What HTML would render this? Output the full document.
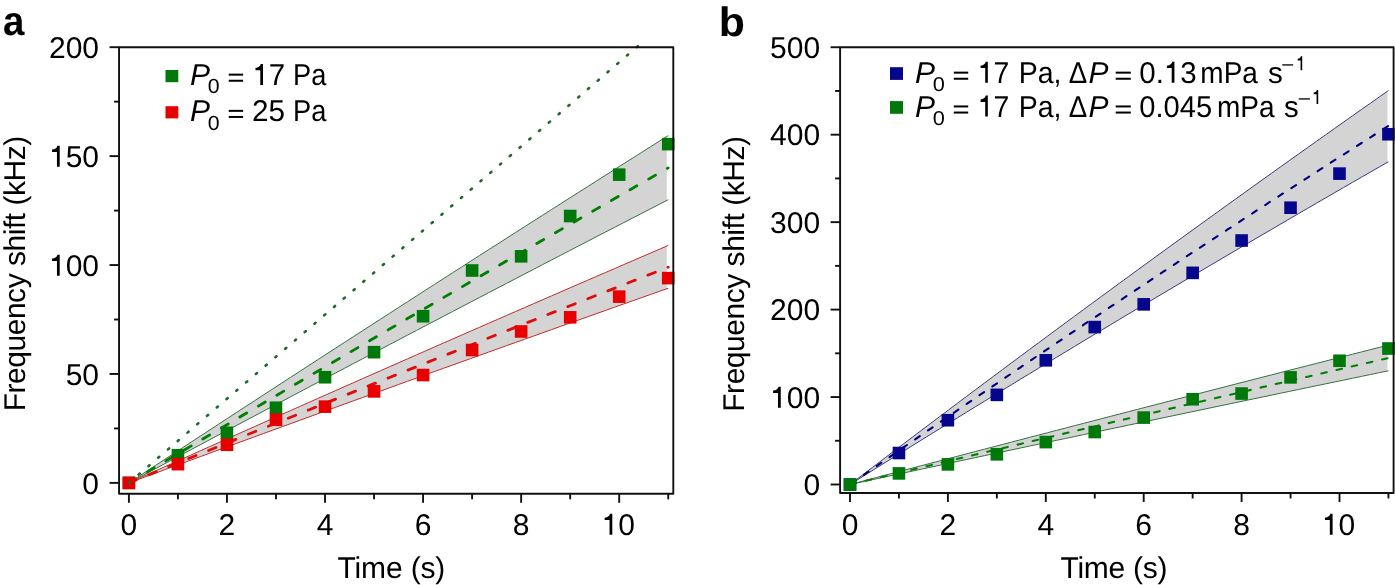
<!DOCTYPE html>
<html><head><meta charset="utf-8"><style>
html,body{margin:0;padding:0;background:#fff;}
svg{display:block;}
text{fill:#000;font-family:"Liberation Sans",sans-serif;text-rendering:geometricPrecision;}
</style></head><body>
<div style="will-change:transform"><svg width="1395" height="585" viewBox="0 0 1395 585">
<polygon points="128.90,482.90 137.86,477.01 146.83,471.13 155.79,465.26 164.76,459.38 173.72,453.51 182.69,447.65 191.65,441.78 200.61,435.93 209.58,430.07 218.54,424.22 227.51,418.37 236.47,412.53 245.44,406.69 254.40,400.85 263.36,395.02 272.33,389.19 281.29,383.37 290.26,377.55 299.22,371.73 308.19,365.92 317.15,360.11 326.12,354.30 335.08,348.50 344.04,342.70 353.01,336.91 361.97,331.12 370.94,325.33 379.90,319.55 388.87,313.77 397.83,308.00 406.79,302.23 415.76,296.46 424.72,290.69 433.69,284.93 442.65,279.18 451.62,273.43 460.58,267.68 469.54,261.93 478.51,256.19 487.47,250.45 496.44,244.72 505.40,238.99 514.37,233.26 523.33,227.54 532.29,221.82 541.26,216.11 550.22,210.40 559.19,204.69 568.15,198.99 577.12,193.29 586.08,187.59 595.04,181.90 604.01,176.21 612.97,170.53 621.94,164.85 630.90,159.17 639.87,153.50 648.83,147.83 657.79,142.16 666.76,136.50 666.76,200.46 657.79,205.07 648.83,209.68 639.87,214.30 630.90,218.93 621.94,223.55 612.97,228.18 604.01,232.81 595.04,237.45 586.08,242.09 577.12,246.73 568.15,251.37 559.19,256.02 550.22,260.67 541.26,265.33 532.29,269.99 523.33,274.65 514.37,279.31 505.40,283.98 496.44,288.65 487.47,293.32 478.51,298.00 469.54,302.68 460.58,307.36 451.62,312.05 442.65,316.74 433.69,321.43 424.72,326.13 415.76,330.83 406.79,335.53 397.83,340.24 388.87,344.95 379.90,349.66 370.94,354.37 361.97,359.09 353.01,363.81 344.04,368.54 335.08,373.27 326.12,378.00 317.15,382.73 308.19,387.47 299.22,392.21 290.26,396.96 281.29,401.70 272.33,406.45 263.36,411.21 254.40,415.96 245.44,420.72 236.47,425.49 227.51,430.26 218.54,435.02 209.58,439.80 200.61,444.57 191.65,449.35 182.69,454.14 173.72,458.92 164.76,463.71 155.79,468.50 146.83,473.30 137.86,478.10 128.90,482.90" fill="#d4d4d5"/>
<path d="M128.90,482.90 L137.89,477.00 L146.88,471.10 L155.87,465.21 L164.86,459.32 L173.84,453.43 L182.83,447.55 L191.82,441.67 L200.81,435.80 L209.80,429.93 L218.79,424.06 L227.78,418.20 L236.77,412.34 L245.75,406.48 L254.74,400.63 L263.73,394.78 L272.72,388.94 L281.71,383.10 L290.70,377.26 L299.69,371.43 L308.68,365.60 L317.67,359.78 L326.65,353.96 L335.64,348.14 L344.63,342.32 L353.62,336.51 L362.61,330.71 L371.60,324.91 L380.59,319.11 L389.58,313.31 L398.57,307.52 L407.55,301.74 L416.54,295.95 L425.53,290.17 L434.52,284.40 L443.51,278.63 L452.50,272.86 L461.49,267.09 L470.48,261.33 L479.46,255.58 L488.45,249.83 L497.44,244.08 L506.43,238.33 L515.42,232.59 L524.41,226.85 L533.40,221.12 L542.39,215.39 L551.38,209.66 L560.36,203.94 L569.35,198.22 L578.34,192.51 L587.33,186.80 L596.32,181.09 L605.31,175.39 L614.30,169.69 L623.29,163.99 L632.27,158.30 L641.26,152.61 L650.25,146.93 L659.24,141.25 L668.23,135.57" fill="none" stroke="#357040" stroke-width="1.0"/>
<path d="M128.90,482.90 L137.89,478.08 L146.88,473.27 L155.87,468.46 L164.86,463.66 L173.84,458.86 L182.83,454.06 L191.82,449.26 L200.81,444.47 L209.80,439.68 L218.79,434.89 L227.78,430.11 L236.77,425.33 L245.75,420.56 L254.74,415.78 L263.73,411.01 L272.72,406.25 L281.71,401.48 L290.70,396.72 L299.69,391.96 L308.68,387.21 L317.67,382.46 L326.65,377.71 L335.64,372.97 L344.63,368.23 L353.62,363.49 L362.61,358.76 L371.60,354.02 L380.59,349.30 L389.58,344.57 L398.57,339.85 L407.55,335.13 L416.54,330.42 L425.53,325.70 L434.52,321.00 L443.51,316.29 L452.50,311.59 L461.49,306.89 L470.48,302.19 L479.46,297.50 L488.45,292.81 L497.44,288.12 L506.43,283.44 L515.42,278.76 L524.41,274.09 L533.40,269.41 L542.39,264.74 L551.38,260.08 L560.36,255.41 L569.35,250.75 L578.34,246.09 L587.33,241.44 L596.32,236.79 L605.31,232.14 L614.30,227.50 L623.29,222.86 L632.27,218.22 L641.26,213.58 L650.25,208.95 L659.24,204.32 L668.23,199.70" fill="none" stroke="#357040" stroke-width="1.0"/>
<path d="M128.90,482.90 L137.89,477.55 L146.88,472.20 L155.87,466.85 L164.86,461.50 L173.84,456.16 L182.83,450.83 L191.82,445.50 L200.81,440.17 L209.80,434.84 L218.79,429.52 L227.78,424.20 L236.77,418.88 L245.75,413.57 L254.74,408.26 L263.73,402.96 L272.72,397.66 L281.71,392.36 L290.70,387.06 L299.69,381.77 L308.68,376.49 L317.67,371.20 L326.65,365.92 L335.64,360.65 L344.63,355.37 L353.62,350.10 L362.61,344.84 L371.60,339.57 L380.59,334.31 L389.58,329.06 L398.57,323.81 L407.55,318.56 L416.54,313.31 L425.53,308.07 L434.52,302.83 L443.51,297.60 L452.50,292.37 L461.49,287.14 L470.48,281.92 L479.46,276.70 L488.45,271.48 L497.44,266.26 L506.43,261.05 L515.42,255.85 L524.41,250.65 L533.40,245.45 L542.39,240.25 L551.38,235.06 L560.36,229.87 L569.35,224.68 L578.34,219.50 L587.33,214.32 L596.32,209.15 L605.31,203.98 L614.30,198.81 L623.29,193.64 L632.27,188.48 L641.26,183.33 L650.25,178.17 L659.24,173.02 L668.23,167.88" fill="none" stroke="#008000" stroke-width="2.8" stroke-dasharray="8 13.5" stroke-dashoffset="0" stroke-linecap="round"/>
<polygon points="128.90,482.90 137.86,478.86 146.83,474.83 155.79,470.80 164.76,466.77 173.72,462.74 182.69,458.72 191.65,454.70 200.61,450.69 209.58,446.67 218.54,442.67 227.51,438.66 236.47,434.65 245.44,430.65 254.40,426.66 263.36,422.66 272.33,418.67 281.29,414.68 290.26,410.70 299.22,406.72 308.19,402.74 317.15,398.76 326.12,394.79 335.08,390.82 344.04,386.85 353.01,382.89 361.97,378.93 370.94,374.97 379.90,371.01 388.87,367.06 397.83,363.11 406.79,359.17 415.76,355.22 424.72,351.29 433.69,347.35 442.65,343.42 451.62,339.49 460.58,335.56 469.54,331.63 478.51,327.71 487.47,323.80 496.44,319.88 505.40,315.97 514.37,312.06 523.33,308.15 532.29,304.25 541.26,300.35 550.22,296.46 559.19,292.56 568.15,288.67 577.12,284.78 586.08,280.90 595.04,277.02 604.01,273.14 612.97,269.26 621.94,265.39 630.90,261.52 639.87,257.66 648.83,253.79 657.79,249.94 666.76,246.08 666.76,288.74 657.79,291.91 648.83,295.08 639.87,298.25 630.90,301.42 621.94,304.60 612.97,307.78 604.01,310.96 595.04,314.14 586.08,317.33 577.12,320.52 568.15,323.71 559.19,326.90 550.22,330.10 541.26,333.29 532.29,336.49 523.33,339.70 514.37,342.90 505.40,346.11 496.44,349.32 487.47,352.53 478.51,355.74 469.54,358.96 460.58,362.18 451.62,365.40 442.65,368.62 433.69,371.85 424.72,375.07 415.76,378.30 406.79,381.54 397.83,384.77 388.87,388.01 379.90,391.25 370.94,394.49 361.97,397.73 353.01,400.98 344.04,404.23 335.08,407.48 326.12,410.73 317.15,413.99 308.19,417.25 299.22,420.51 290.26,423.77 281.29,427.04 272.33,430.30 263.36,433.57 254.40,436.85 245.44,440.12 236.47,443.40 227.51,446.68 218.54,449.96 209.58,453.24 200.61,456.53 191.65,459.82 182.69,463.11 173.72,466.40 164.76,469.70 155.79,472.99 146.83,476.29 137.86,479.60 128.90,482.90" fill="#d4d4d5"/>
<path d="M128.90,482.90 L137.89,478.85 L146.88,474.81 L155.87,470.76 L164.86,466.73 L173.84,462.69 L182.83,458.66 L191.82,454.63 L200.81,450.60 L209.80,446.58 L218.79,442.56 L227.78,438.54 L236.77,434.52 L245.75,430.51 L254.74,426.50 L263.73,422.50 L272.72,418.50 L281.71,414.50 L290.70,410.50 L299.69,406.51 L308.68,402.52 L317.67,398.53 L326.65,394.55 L335.64,390.57 L344.63,386.59 L353.62,382.62 L362.61,378.64 L371.60,374.68 L380.59,370.71 L389.58,366.75 L398.57,362.79 L407.55,358.83 L416.54,354.88 L425.53,350.93 L434.52,346.98 L443.51,343.04 L452.50,339.10 L461.49,335.16 L470.48,331.23 L479.46,327.30 L488.45,323.37 L497.44,319.44 L506.43,315.52 L515.42,311.60 L524.41,307.68 L533.40,303.77 L542.39,299.86 L551.38,295.95 L560.36,292.05 L569.35,288.15 L578.34,284.25 L587.33,280.36 L596.32,276.47 L605.31,272.58 L614.30,268.69 L623.29,264.81 L632.27,260.93 L641.26,257.06 L650.25,253.18 L659.24,249.31 L668.23,245.45" fill="none" stroke="#c02a2a" stroke-width="1.0"/>
<path d="M128.90,482.90 L137.89,479.59 L146.88,476.27 L155.87,472.97 L164.86,469.66 L173.84,466.35 L182.83,463.05 L191.82,459.75 L200.81,456.46 L209.80,453.16 L218.79,449.87 L227.78,446.58 L236.77,443.29 L245.75,440.00 L254.74,436.72 L263.73,433.44 L272.72,430.16 L281.71,426.88 L290.70,423.61 L299.69,420.34 L308.68,417.07 L317.67,413.80 L326.65,410.54 L335.64,407.28 L344.63,404.02 L353.62,400.76 L362.61,397.50 L371.60,394.25 L380.59,391.00 L389.58,387.75 L398.57,384.51 L407.55,381.26 L416.54,378.02 L425.53,374.78 L434.52,371.55 L443.51,368.31 L452.50,365.08 L461.49,361.85 L470.48,358.62 L479.46,355.40 L488.45,352.18 L497.44,348.96 L506.43,345.74 L515.42,342.52 L524.41,339.31 L533.40,336.10 L542.39,332.89 L551.38,329.69 L560.36,326.48 L569.35,323.28 L578.34,320.08 L587.33,316.88 L596.32,313.69 L605.31,310.50 L614.30,307.31 L623.29,304.12 L632.27,300.94 L641.26,297.75 L650.25,294.57 L659.24,291.40 L668.23,288.22" fill="none" stroke="#c02a2a" stroke-width="1.0"/>
<path d="M128.90,482.90 L137.89,479.23 L146.88,475.56 L155.87,471.89 L164.86,468.22 L173.84,464.56 L182.83,460.90 L191.82,457.24 L200.81,453.59 L209.80,449.94 L218.79,446.29 L227.78,442.64 L236.77,439.00 L245.75,435.36 L254.74,431.72 L263.73,428.08 L272.72,424.45 L281.71,420.82 L290.70,417.19 L299.69,413.56 L308.68,409.94 L317.67,406.32 L326.65,402.70 L335.64,399.09 L344.63,395.47 L353.62,391.86 L362.61,388.26 L371.60,384.65 L380.59,381.05 L389.58,377.45 L398.57,373.85 L407.55,370.26 L416.54,366.67 L425.53,363.08 L434.52,359.49 L443.51,355.91 L452.50,352.33 L461.49,348.75 L470.48,345.18 L479.46,341.60 L488.45,338.03 L497.44,334.47 L506.43,330.90 L515.42,327.34 L524.41,323.78 L533.40,320.22 L542.39,316.67 L551.38,313.11 L560.36,309.57 L569.35,306.02 L578.34,302.47 L587.33,298.93 L596.32,295.39 L605.31,291.86 L614.30,288.33 L623.29,284.79 L632.27,281.27 L641.26,277.74 L650.25,274.22 L659.24,270.70 L668.23,267.18" fill="none" stroke="#e00c0c" stroke-width="2.8" stroke-dasharray="8 13.5" stroke-dashoffset="0" stroke-linecap="round"/>
<rect x="122.60" y="476.60" width="12.6" height="12.6" fill="#00780a"/>
<rect x="171.63" y="448.93" width="12.6" height="12.6" fill="#00780a"/>
<rect x="220.66" y="426.49" width="12.6" height="12.6" fill="#00780a"/>
<rect x="269.69" y="401.44" width="12.6" height="12.6" fill="#00780a"/>
<rect x="318.72" y="370.94" width="12.6" height="12.6" fill="#00780a"/>
<rect x="367.75" y="345.89" width="12.6" height="12.6" fill="#00780a"/>
<rect x="416.78" y="309.94" width="12.6" height="12.6" fill="#00780a"/>
<rect x="465.81" y="264.20" width="12.6" height="12.6" fill="#00780a"/>
<rect x="514.84" y="250.04" width="12.6" height="12.6" fill="#00780a"/>
<rect x="563.87" y="209.73" width="12.6" height="12.6" fill="#00780a"/>
<rect x="612.90" y="168.34" width="12.6" height="12.6" fill="#00780a"/>
<rect x="661.93" y="137.84" width="12.6" height="12.6" fill="#00780a"/>
<rect x="122.60" y="476.60" width="12.6" height="12.6" fill="#e80000"/>
<rect x="171.63" y="457.86" width="12.6" height="12.6" fill="#e80000"/>
<rect x="220.66" y="438.48" width="12.6" height="12.6" fill="#e80000"/>
<rect x="269.69" y="413.42" width="12.6" height="12.6" fill="#e80000"/>
<rect x="318.72" y="400.35" width="12.6" height="12.6" fill="#e80000"/>
<rect x="367.75" y="385.10" width="12.6" height="12.6" fill="#e80000"/>
<rect x="416.78" y="368.76" width="12.6" height="12.6" fill="#e80000"/>
<rect x="465.81" y="343.71" width="12.6" height="12.6" fill="#e80000"/>
<rect x="514.84" y="325.19" width="12.6" height="12.6" fill="#e80000"/>
<rect x="563.87" y="311.03" width="12.6" height="12.6" fill="#e80000"/>
<rect x="612.90" y="290.34" width="12.6" height="12.6" fill="#e80000"/>
<rect x="661.93" y="271.82" width="12.6" height="12.6" fill="#e80000"/>
<line x1="128.90" y1="482.90" x2="639.00" y2="45.24" stroke="#1d6a2a" stroke-width="2.6" stroke-dasharray="1.4 11.47" stroke-linecap="round"/>
<rect x="119.05" y="47.20" width="554.25" height="446.60" fill="none" stroke="#111" stroke-width="1.9" stroke-linejoin="round"/>
<line x1="109.55" y1="482.90" x2="119.05" y2="482.90" stroke="#111" stroke-width="1.9"/>
<line x1="109.55" y1="373.97" x2="119.05" y2="373.97" stroke="#111" stroke-width="1.9"/>
<line x1="109.55" y1="265.05" x2="119.05" y2="265.05" stroke="#111" stroke-width="1.9"/>
<line x1="109.55" y1="156.12" x2="119.05" y2="156.12" stroke="#111" stroke-width="1.9"/>
<line x1="109.55" y1="47.20" x2="119.05" y2="47.20" stroke="#111" stroke-width="1.9"/>
<line x1="114.05" y1="428.44" x2="119.05" y2="428.44" stroke="#111" stroke-width="1.9"/>
<line x1="114.05" y1="319.51" x2="119.05" y2="319.51" stroke="#111" stroke-width="1.9"/>
<line x1="114.05" y1="210.59" x2="119.05" y2="210.59" stroke="#111" stroke-width="1.9"/>
<line x1="114.05" y1="101.66" x2="119.05" y2="101.66" stroke="#111" stroke-width="1.9"/>
<line x1="128.90" y1="493.80" x2="128.90" y2="502.80" stroke="#111" stroke-width="1.9"/>
<line x1="177.93" y1="493.80" x2="177.93" y2="499.30" stroke="#111" stroke-width="1.9"/>
<line x1="226.96" y1="493.80" x2="226.96" y2="502.80" stroke="#111" stroke-width="1.9"/>
<line x1="275.99" y1="493.80" x2="275.99" y2="499.30" stroke="#111" stroke-width="1.9"/>
<line x1="325.02" y1="493.80" x2="325.02" y2="502.80" stroke="#111" stroke-width="1.9"/>
<line x1="374.05" y1="493.80" x2="374.05" y2="499.30" stroke="#111" stroke-width="1.9"/>
<line x1="423.08" y1="493.80" x2="423.08" y2="502.80" stroke="#111" stroke-width="1.9"/>
<line x1="472.11" y1="493.80" x2="472.11" y2="499.30" stroke="#111" stroke-width="1.9"/>
<line x1="521.14" y1="493.80" x2="521.14" y2="502.80" stroke="#111" stroke-width="1.9"/>
<line x1="570.17" y1="493.80" x2="570.17" y2="499.30" stroke="#111" stroke-width="1.9"/>
<line x1="619.20" y1="493.80" x2="619.20" y2="502.80" stroke="#111" stroke-width="1.9"/>
<line x1="668.23" y1="493.80" x2="668.23" y2="499.30" stroke="#111" stroke-width="1.9"/>
<text x="82.34" y="493.50" font-size="30">0</text>
<text x="65.65" y="384.57" font-size="30">5</text>
<text x="82.34" y="384.57" font-size="30">0</text>
<path d="M103,490 L266,490 L266,0 L358,0 L358,700 L282,700 C268,635 215,577 103,570 Z" transform="translate(48.97,275.65) scale(0.03000,-0.03000)"/>
<text x="65.65" y="275.65" font-size="30">0</text>
<text x="82.34" y="275.65" font-size="30">0</text>
<path d="M103,490 L266,490 L266,0 L358,0 L358,700 L282,700 C268,635 215,577 103,570 Z" transform="translate(48.97,166.72) scale(0.03000,-0.03000)"/>
<text x="65.65" y="166.72" font-size="30">5</text>
<text x="82.34" y="166.72" font-size="30">0</text>
<text x="48.97" y="57.80" font-size="30">2</text>
<text x="65.65" y="57.80" font-size="30">0</text>
<text x="82.34" y="57.80" font-size="30">0</text>
<text x="120.56" y="534.80" font-size="30">0</text>
<text x="218.62" y="534.80" font-size="30">2</text>
<text x="316.77" y="534.80" font-size="30">4</text>
<text x="414.64" y="534.80" font-size="30">6</text>
<text x="512.80" y="534.80" font-size="30">8</text>
<path d="M103,490 L266,490 L266,0 L358,0 L358,700 L282,700 C268,635 215,577 103,570 Z" transform="translate(601.56,534.80) scale(0.03000,-0.03000)"/>
<text x="618.24" y="534.80" font-size="30">0</text>
<polygon points="850.00,484.50 858.96,477.68 867.92,470.86 876.87,464.06 885.83,457.26 894.79,450.47 903.75,443.69 912.70,436.92 921.66,430.16 930.62,423.41 939.58,416.67 948.54,409.94 957.49,403.21 966.45,396.50 975.41,389.79 984.37,383.10 993.33,376.41 1002.28,369.73 1011.24,363.06 1020.20,356.41 1029.16,349.75 1038.11,343.11 1047.07,336.48 1056.03,329.86 1064.99,323.24 1073.95,316.64 1082.90,310.04 1091.86,303.46 1100.82,296.88 1109.78,290.31 1118.74,283.75 1127.69,277.20 1136.65,270.66 1145.61,264.13 1154.57,257.61 1163.52,251.09 1172.48,244.59 1181.44,238.10 1190.40,231.61 1199.36,225.13 1208.31,218.66 1217.27,212.21 1226.23,205.76 1235.19,199.32 1244.15,192.89 1253.10,186.46 1262.06,180.05 1271.02,173.65 1279.98,167.25 1288.93,160.87 1297.89,154.49 1306.85,148.12 1315.81,141.76 1324.77,135.42 1333.72,129.08 1342.68,122.75 1351.64,116.42 1360.60,110.11 1369.56,103.81 1378.51,97.51 1387.47,91.23 1387.47,162.28 1378.51,167.42 1369.56,172.56 1360.60,177.71 1351.64,182.87 1342.68,188.04 1333.72,193.22 1324.77,198.40 1315.81,203.60 1306.85,208.80 1297.89,214.01 1288.93,219.22 1279.98,224.45 1271.02,229.68 1262.06,234.92 1253.10,240.17 1244.15,245.42 1235.19,250.68 1226.23,255.96 1217.27,261.24 1208.31,266.52 1199.36,271.82 1190.40,277.12 1181.44,282.43 1172.48,287.75 1163.52,293.08 1154.57,298.41 1145.61,303.76 1136.65,309.11 1127.69,314.46 1118.74,319.83 1109.78,325.21 1100.82,330.59 1091.86,335.98 1082.90,341.38 1073.95,346.78 1064.99,352.20 1056.03,357.62 1047.07,363.05 1038.11,368.48 1029.16,373.93 1020.20,379.38 1011.24,384.84 1002.28,390.31 993.33,395.79 984.37,401.28 975.41,406.77 966.45,412.27 957.49,417.78 948.54,423.30 939.58,428.82 930.62,434.35 921.66,439.89 912.70,445.44 903.75,451.00 894.79,456.56 885.83,462.13 876.87,467.71 867.92,473.30 858.96,478.90 850.00,484.50" fill="#d4d4d5"/>
<path d="M850.00,484.50 L858.97,477.66 L867.95,470.84 L876.92,464.02 L885.90,457.21 L894.87,450.41 L903.85,443.62 L912.82,436.84 L921.79,430.06 L930.77,423.30 L939.74,416.55 L948.72,409.80 L957.69,403.07 L966.66,396.34 L975.64,389.62 L984.61,382.92 L993.59,376.22 L1002.56,369.53 L1011.53,362.85 L1020.51,356.18 L1029.48,349.51 L1038.46,342.86 L1047.43,336.22 L1056.41,329.58 L1065.38,322.96 L1074.35,316.34 L1083.33,309.73 L1092.30,303.13 L1101.28,296.54 L1110.25,289.97 L1119.22,283.39 L1128.20,276.83 L1137.17,270.28 L1146.15,263.74 L1155.12,257.20 L1164.10,250.68 L1173.07,244.16 L1182.04,237.66 L1191.02,231.16 L1199.99,224.67 L1208.97,218.19 L1217.94,211.72 L1226.91,205.26 L1235.89,198.81 L1244.86,192.37 L1253.84,185.94 L1262.81,179.51 L1271.79,173.10 L1280.76,166.69 L1289.73,160.30 L1298.71,153.91 L1307.68,147.53 L1316.66,141.16 L1325.63,134.80 L1334.61,128.45 L1343.58,122.11 L1352.55,115.78 L1361.53,109.46 L1370.50,103.14 L1379.48,96.84 L1388.45,90.54" fill="none" stroke="#3a3a80" stroke-width="1.0"/>
<path d="M850.00,484.50 L858.97,478.89 L867.95,473.28 L876.92,467.68 L885.90,462.09 L894.87,456.51 L903.85,450.94 L912.82,445.37 L921.79,439.81 L930.77,434.26 L939.74,428.72 L948.72,423.18 L957.69,417.66 L966.66,412.14 L975.64,406.63 L984.61,401.13 L993.59,395.63 L1002.56,390.14 L1011.53,384.67 L1020.51,379.19 L1029.48,373.73 L1038.46,368.28 L1047.43,362.83 L1056.41,357.39 L1065.38,351.96 L1074.35,346.54 L1083.33,341.12 L1092.30,335.71 L1101.28,330.31 L1110.25,324.92 L1119.22,319.54 L1128.20,314.16 L1137.17,308.79 L1146.15,303.43 L1155.12,298.08 L1164.10,292.74 L1173.07,287.40 L1182.04,282.07 L1191.02,276.75 L1199.99,271.44 L1208.97,266.14 L1217.94,260.84 L1226.91,255.55 L1235.89,250.27 L1244.86,245.00 L1253.84,239.73 L1262.81,234.48 L1271.79,229.23 L1280.76,223.99 L1289.73,218.76 L1298.71,213.53 L1307.68,208.31 L1316.66,203.10 L1325.63,197.90 L1334.61,192.71 L1343.58,187.52 L1352.55,182.35 L1361.53,177.18 L1370.50,172.02 L1379.48,166.86 L1388.45,161.72" fill="none" stroke="#3a3a80" stroke-width="1.0"/>
<path d="M850.00,484.50 L858.97,478.25 L867.95,472.01 L876.92,465.77 L885.90,459.55 L894.87,453.34 L903.85,447.13 L912.82,440.94 L921.79,434.75 L930.77,428.57 L939.74,422.41 L948.72,416.25 L957.69,410.10 L966.66,403.96 L975.64,397.83 L984.61,391.71 L993.59,385.59 L1002.56,379.49 L1011.53,373.40 L1020.51,367.31 L1029.48,361.24 L1038.46,355.17 L1047.43,349.12 L1056.41,343.07 L1065.38,337.03 L1074.35,331.01 L1083.33,324.99 L1092.30,318.98 L1101.28,312.98 L1110.25,306.99 L1119.22,301.00 L1128.20,295.03 L1137.17,289.07 L1146.15,283.11 L1155.12,277.17 L1164.10,271.23 L1173.07,265.31 L1182.04,259.39 L1191.02,253.48 L1199.99,247.58 L1208.97,241.70 L1217.94,235.82 L1226.91,229.95 L1235.89,224.08 L1244.86,218.23 L1253.84,212.39 L1262.81,206.56 L1271.79,200.73 L1280.76,194.92 L1289.73,189.11 L1298.71,183.32 L1307.68,177.53 L1316.66,171.75 L1325.63,165.98 L1334.61,160.22 L1343.58,154.47 L1352.55,148.73 L1361.53,143.00 L1370.50,137.28 L1379.48,131.57 L1388.45,125.87" fill="none" stroke="#000080" stroke-width="2.1" stroke-dasharray="5.6 10.0" stroke-dashoffset="-1.3" stroke-linecap="round"/>
<polygon points="850.00,484.50 858.96,482.14 867.92,479.77 876.87,477.41 885.83,475.05 894.79,472.69 903.75,470.34 912.70,467.98 921.66,465.63 930.62,463.27 939.58,460.92 948.54,458.57 957.49,456.23 966.45,453.88 975.41,451.54 984.37,449.19 993.33,446.85 1002.28,444.51 1011.24,442.17 1020.20,439.83 1029.16,437.50 1038.11,435.16 1047.07,432.83 1056.03,430.50 1064.99,428.17 1073.95,425.84 1082.90,423.52 1091.86,421.19 1100.82,418.87 1109.78,416.55 1118.74,414.23 1127.69,411.91 1136.65,409.59 1145.61,407.27 1154.57,404.96 1163.52,402.65 1172.48,400.34 1181.44,398.03 1190.40,395.72 1199.36,393.41 1208.31,391.11 1217.27,388.80 1226.23,386.50 1235.19,384.20 1244.15,381.90 1253.10,379.60 1262.06,377.31 1271.02,375.01 1279.98,372.72 1288.93,370.43 1297.89,368.14 1306.85,365.85 1315.81,363.56 1324.77,361.28 1333.72,358.99 1342.68,356.71 1351.64,354.43 1360.60,352.15 1369.56,349.87 1378.51,347.60 1387.47,345.32 1387.47,371.02 1378.51,372.87 1369.56,374.73 1360.60,376.58 1351.64,378.44 1342.68,380.30 1333.72,382.16 1324.77,384.02 1315.81,385.88 1306.85,387.75 1297.89,389.61 1288.93,391.48 1279.98,393.34 1271.02,395.21 1262.06,397.08 1253.10,398.95 1244.15,400.83 1235.19,402.70 1226.23,404.58 1217.27,406.45 1208.31,408.33 1199.36,410.21 1190.40,412.09 1181.44,413.97 1172.48,415.85 1163.52,417.74 1154.57,419.62 1145.61,421.51 1136.65,423.40 1127.69,425.29 1118.74,427.18 1109.78,429.07 1100.82,430.97 1091.86,432.86 1082.90,434.76 1073.95,436.65 1064.99,438.55 1056.03,440.45 1047.07,442.35 1038.11,444.25 1029.16,446.16 1020.20,448.06 1011.24,449.97 1002.28,451.88 993.33,453.78 984.37,455.69 975.41,457.61 966.45,459.52 957.49,461.43 948.54,463.35 939.58,465.26 930.62,467.18 921.66,469.10 912.70,471.02 903.75,472.94 894.79,474.87 885.83,476.79 876.87,478.72 867.92,480.64 858.96,482.57 850.00,484.50" fill="#d4d4d5"/>
<path d="M850.00,484.50 L858.97,482.13 L867.95,479.76 L876.92,477.40 L885.90,475.03 L894.87,472.67 L903.85,470.31 L912.82,467.95 L921.79,465.59 L930.77,463.24 L939.74,460.88 L948.72,458.53 L957.69,456.17 L966.66,453.82 L975.64,451.48 L984.61,449.13 L993.59,446.78 L1002.56,444.44 L1011.53,442.09 L1020.51,439.75 L1029.48,437.41 L1038.46,435.08 L1047.43,432.74 L1056.41,430.40 L1065.38,428.07 L1074.35,425.74 L1083.33,423.41 L1092.30,421.08 L1101.28,418.75 L1110.25,416.42 L1119.22,414.10 L1128.20,411.78 L1137.17,409.46 L1146.15,407.14 L1155.12,404.82 L1164.10,402.50 L1173.07,400.18 L1182.04,397.87 L1191.02,395.56 L1199.99,393.25 L1208.97,390.94 L1217.94,388.63 L1226.91,386.32 L1235.89,384.02 L1244.86,381.72 L1253.84,379.42 L1262.81,377.12 L1271.79,374.82 L1280.76,372.52 L1289.73,370.22 L1298.71,367.93 L1307.68,365.64 L1316.66,363.35 L1325.63,361.06 L1334.61,358.77 L1343.58,356.48 L1352.55,354.20 L1361.53,351.92 L1370.50,349.63 L1379.48,347.35 L1388.45,345.07" fill="none" stroke="#357040" stroke-width="1.0"/>
<path d="M850.00,484.50 L858.97,482.57 L867.95,480.64 L876.92,478.71 L885.90,476.78 L894.87,474.85 L903.85,472.92 L912.82,471.00 L921.79,469.07 L930.77,467.15 L939.74,465.23 L948.72,463.31 L957.69,461.39 L966.66,459.47 L975.64,457.56 L984.61,455.64 L993.59,453.73 L1002.56,451.82 L1011.53,449.91 L1020.51,448.00 L1029.48,446.09 L1038.46,444.18 L1047.43,442.28 L1056.41,440.37 L1065.38,438.47 L1074.35,436.57 L1083.33,434.67 L1092.30,432.77 L1101.28,430.87 L1110.25,428.97 L1119.22,427.08 L1128.20,425.18 L1137.17,423.29 L1146.15,421.40 L1155.12,419.51 L1164.10,417.62 L1173.07,415.73 L1182.04,413.85 L1191.02,411.96 L1199.99,410.08 L1208.97,408.19 L1217.94,406.31 L1226.91,404.43 L1235.89,402.55 L1244.86,400.68 L1253.84,398.80 L1262.81,396.93 L1271.79,395.05 L1280.76,393.18 L1289.73,391.31 L1298.71,389.44 L1307.68,387.57 L1316.66,385.71 L1325.63,383.84 L1334.61,381.98 L1343.58,380.11 L1352.55,378.25 L1361.53,376.39 L1370.50,374.53 L1379.48,372.67 L1388.45,370.82" fill="none" stroke="#357040" stroke-width="1.0"/>
<path d="M850.00,484.50 L858.97,482.35 L867.95,480.20 L876.92,478.06 L885.90,475.91 L894.87,473.77 L903.85,471.63 L912.82,469.48 L921.79,467.35 L930.77,465.21 L939.74,463.07 L948.72,460.94 L957.69,458.80 L966.66,456.67 L975.64,454.54 L984.61,452.41 L993.59,450.28 L1002.56,448.15 L1011.53,446.03 L1020.51,443.91 L1029.48,441.78 L1038.46,439.66 L1047.43,437.54 L1056.41,435.42 L1065.38,433.31 L1074.35,431.19 L1083.33,429.08 L1092.30,426.97 L1101.28,424.85 L1110.25,422.74 L1119.22,420.64 L1128.20,418.53 L1137.17,416.42 L1146.15,414.32 L1155.12,412.22 L1164.10,410.12 L1173.07,408.02 L1182.04,405.92 L1191.02,403.82 L1199.99,401.72 L1208.97,399.63 L1217.94,397.54 L1226.91,395.45 L1235.89,393.36 L1244.86,391.27 L1253.84,389.18 L1262.81,387.09 L1271.79,385.01 L1280.76,382.93 L1289.73,380.85 L1298.71,378.77 L1307.68,376.69 L1316.66,374.61 L1325.63,372.53 L1334.61,370.46 L1343.58,368.39 L1352.55,366.31 L1361.53,364.24 L1370.50,362.18 L1379.48,360.11 L1388.45,358.04" fill="none" stroke="#008000" stroke-width="2.1" stroke-dasharray="5.6 10.0" stroke-dashoffset="-0.6" stroke-linecap="round"/>
<rect x="843.70" y="478.20" width="12.6" height="12.6" fill="#06068c"/>
<rect x="892.65" y="446.72" width="12.6" height="12.6" fill="#06068c"/>
<rect x="941.60" y="413.92" width="12.6" height="12.6" fill="#06068c"/>
<rect x="990.55" y="388.56" width="12.6" height="12.6" fill="#06068c"/>
<rect x="1039.50" y="354.02" width="12.6" height="12.6" fill="#06068c"/>
<rect x="1088.45" y="320.79" width="12.6" height="12.6" fill="#06068c"/>
<rect x="1137.40" y="298.05" width="12.6" height="12.6" fill="#06068c"/>
<rect x="1186.35" y="266.57" width="12.6" height="12.6" fill="#06068c"/>
<rect x="1235.30" y="234.21" width="12.6" height="12.6" fill="#06068c"/>
<rect x="1284.25" y="201.42" width="12.6" height="12.6" fill="#06068c"/>
<rect x="1333.20" y="167.32" width="12.6" height="12.6" fill="#06068c"/>
<rect x="1382.15" y="127.96" width="12.6" height="12.6" fill="#06068c"/>
<rect x="843.70" y="478.20" width="12.6" height="12.6" fill="#00780a"/>
<rect x="892.65" y="467.09" width="12.6" height="12.6" fill="#00780a"/>
<rect x="941.60" y="458.09" width="12.6" height="12.6" fill="#00780a"/>
<rect x="990.55" y="448.03" width="12.6" height="12.6" fill="#00780a"/>
<rect x="1039.50" y="435.79" width="12.6" height="12.6" fill="#00780a"/>
<rect x="1088.45" y="425.73" width="12.6" height="12.6" fill="#00780a"/>
<rect x="1137.40" y="411.30" width="12.6" height="12.6" fill="#00780a"/>
<rect x="1186.35" y="392.94" width="12.6" height="12.6" fill="#00780a"/>
<rect x="1235.30" y="387.25" width="12.6" height="12.6" fill="#00780a"/>
<rect x="1284.25" y="371.07" width="12.6" height="12.6" fill="#00780a"/>
<rect x="1333.20" y="354.46" width="12.6" height="12.6" fill="#00780a"/>
<rect x="1382.15" y="342.22" width="12.6" height="12.6" fill="#00780a"/>
<rect x="840.10" y="47.25" width="553.50" height="445.70" fill="none" stroke="#111" stroke-width="1.9" stroke-linejoin="round"/>
<line x1="830.60" y1="484.50" x2="840.10" y2="484.50" stroke="#111" stroke-width="1.9"/>
<line x1="830.60" y1="397.05" x2="840.10" y2="397.05" stroke="#111" stroke-width="1.9"/>
<line x1="830.60" y1="309.60" x2="840.10" y2="309.60" stroke="#111" stroke-width="1.9"/>
<line x1="830.60" y1="222.15" x2="840.10" y2="222.15" stroke="#111" stroke-width="1.9"/>
<line x1="830.60" y1="134.70" x2="840.10" y2="134.70" stroke="#111" stroke-width="1.9"/>
<line x1="830.60" y1="47.25" x2="840.10" y2="47.25" stroke="#111" stroke-width="1.9"/>
<line x1="835.10" y1="440.77" x2="840.10" y2="440.77" stroke="#111" stroke-width="1.9"/>
<line x1="835.10" y1="353.32" x2="840.10" y2="353.32" stroke="#111" stroke-width="1.9"/>
<line x1="835.10" y1="265.88" x2="840.10" y2="265.88" stroke="#111" stroke-width="1.9"/>
<line x1="835.10" y1="178.42" x2="840.10" y2="178.42" stroke="#111" stroke-width="1.9"/>
<line x1="835.10" y1="90.97" x2="840.10" y2="90.97" stroke="#111" stroke-width="1.9"/>
<line x1="850.00" y1="492.95" x2="850.00" y2="501.95" stroke="#111" stroke-width="1.9"/>
<line x1="898.95" y1="492.95" x2="898.95" y2="498.45" stroke="#111" stroke-width="1.9"/>
<line x1="947.90" y1="492.95" x2="947.90" y2="501.95" stroke="#111" stroke-width="1.9"/>
<line x1="996.85" y1="492.95" x2="996.85" y2="498.45" stroke="#111" stroke-width="1.9"/>
<line x1="1045.80" y1="492.95" x2="1045.80" y2="501.95" stroke="#111" stroke-width="1.9"/>
<line x1="1094.75" y1="492.95" x2="1094.75" y2="498.45" stroke="#111" stroke-width="1.9"/>
<line x1="1143.70" y1="492.95" x2="1143.70" y2="501.95" stroke="#111" stroke-width="1.9"/>
<line x1="1192.65" y1="492.95" x2="1192.65" y2="498.45" stroke="#111" stroke-width="1.9"/>
<line x1="1241.60" y1="492.95" x2="1241.60" y2="501.95" stroke="#111" stroke-width="1.9"/>
<line x1="1290.55" y1="492.95" x2="1290.55" y2="498.45" stroke="#111" stroke-width="1.9"/>
<line x1="1339.50" y1="492.95" x2="1339.50" y2="501.95" stroke="#111" stroke-width="1.9"/>
<line x1="1388.45" y1="492.95" x2="1388.45" y2="498.45" stroke="#111" stroke-width="1.9"/>
<text x="803.39" y="495.10" font-size="30">0</text>
<path d="M103,490 L266,490 L266,0 L358,0 L358,700 L282,700 C268,635 215,577 103,570 Z" transform="translate(770.02,407.65) scale(0.03000,-0.03000)"/>
<text x="786.70" y="407.65" font-size="30">0</text>
<text x="803.39" y="407.65" font-size="30">0</text>
<text x="770.02" y="320.20" font-size="30">2</text>
<text x="786.70" y="320.20" font-size="30">0</text>
<text x="803.39" y="320.20" font-size="30">0</text>
<text x="770.02" y="232.75" font-size="30">3</text>
<text x="786.70" y="232.75" font-size="30">0</text>
<text x="803.39" y="232.75" font-size="30">0</text>
<text x="770.02" y="145.30" font-size="30">4</text>
<text x="786.70" y="145.30" font-size="30">0</text>
<text x="803.39" y="145.30" font-size="30">0</text>
<text x="770.02" y="57.85" font-size="30">5</text>
<text x="786.70" y="57.85" font-size="30">0</text>
<text x="803.39" y="57.85" font-size="30">0</text>
<text x="841.66" y="534.80" font-size="30">0</text>
<text x="939.56" y="534.80" font-size="30">2</text>
<text x="1037.55" y="534.80" font-size="30">4</text>
<text x="1135.26" y="534.80" font-size="30">6</text>
<text x="1233.26" y="534.80" font-size="30">8</text>
<path d="M103,490 L266,490 L266,0 L358,0 L358,700 L282,700 C268,635 215,577 103,570 Z" transform="translate(1321.86,534.80) scale(0.03000,-0.03000)"/>
<text x="1338.54" y="534.80" font-size="30">0</text>
<text x="2.97" y="35.30" font-size="41" font-weight="bold" textLength="21.382" lengthAdjust="spacingAndGlyphs">a</text>
<text x="718.67" y="35.60" font-size="41" font-weight="bold" textLength="26.184" lengthAdjust="spacingAndGlyphs">b</text>
<text transform="translate(25.00,273.50) rotate(-90)" text-anchor="middle" font-size="30" textLength="275.7" lengthAdjust="spacing">Frequency shift (kHz)</text>
<text transform="translate(744.00,273.90) rotate(-90)" text-anchor="middle" font-size="30" textLength="275.7" lengthAdjust="spacing">Frequency shift (kHz)</text>
<text x="337.53" y="578.1" font-size="30" textLength="107.83" lengthAdjust="spacing">Time (s)</text>
<text x="1060.43" y="578.1" font-size="30" textLength="107.13" lengthAdjust="spacing">Time (s)</text>
<rect x="165.50" y="70.00" width="12.80" height="12.20" fill="#00780a"/>
<text x="190.08" y="85.00" font-size="30" font-style="italic">P</text>
<text x="207.77" y="93.30" font-size="20.5" textLength="11.867" lengthAdjust="spacingAndGlyphs">0</text>
<rect x="228.70" y="73.65" width="14.40" height="2.0" fill="#000"/>
<rect x="228.70" y="79.75" width="14.40" height="2.0" fill="#000"/>
<path d="M103,490 L266,490 L266,0 L358,0 L358,700 L282,700 C268,635 215,577 103,570 Z" transform="translate(252.47,85.00) scale(0.02941,-0.03000)"/>
<text x="268.83" y="85.00" font-size="30" textLength="16.354" lengthAdjust="spacingAndGlyphs">7</text>
<text x="293.06" y="85.00" font-size="30" textLength="18.178" lengthAdjust="spacingAndGlyphs">P</text>
<text x="311.24" y="85.00" font-size="30" textLength="15.157" lengthAdjust="spacingAndGlyphs">a</text>
<rect x="165.50" y="106.20" width="12.80" height="12.20" fill="#e80000"/>
<text x="190.08" y="121.20" font-size="30" font-style="italic">P</text>
<text x="207.77" y="129.50" font-size="20.5" textLength="11.867" lengthAdjust="spacingAndGlyphs">0</text>
<rect x="228.70" y="109.85" width="14.40" height="2.0" fill="#000"/>
<rect x="228.70" y="115.95" width="14.40" height="2.0" fill="#000"/>
<text x="251.91" y="121.20" font-size="30" textLength="16.521" lengthAdjust="spacingAndGlyphs">2</text>
<text x="268.43" y="121.20" font-size="30" textLength="16.521" lengthAdjust="spacingAndGlyphs">5</text>
<text x="293.06" y="121.20" font-size="30" textLength="18.178" lengthAdjust="spacingAndGlyphs">P</text>
<text x="311.24" y="121.20" font-size="30" textLength="15.157" lengthAdjust="spacingAndGlyphs">a</text>
<rect x="890.00" y="67.20" width="13.00" height="12.70" fill="#06068c"/>
<text x="914.98" y="82.80" font-size="30" font-style="italic">P</text>
<text x="932.65" y="90.70" font-size="20" textLength="12.100" lengthAdjust="spacingAndGlyphs">0</text>
<rect x="953.80" y="71.65" width="14.40" height="2.0" fill="#000"/>
<rect x="953.80" y="77.75" width="14.40" height="2.0" fill="#000"/>
<path d="M103,490 L266,490 L266,0 L358,0 L358,700 L282,700 C268,635 215,577 103,570 Z" transform="translate(977.68,82.80) scale(0.02836,-0.03000)"/>
<text x="993.45" y="82.80" font-size="30" textLength="15.774" lengthAdjust="spacingAndGlyphs">7</text>
<text x="1018.66" y="82.80" font-size="30" textLength="19.020" lengthAdjust="spacingAndGlyphs">P</text>
<text x="1037.68" y="82.80" font-size="30" textLength="15.859" lengthAdjust="spacingAndGlyphs">a</text>
<text x="1053.54" y="82.80" font-size="30" textLength="7.923" lengthAdjust="spacingAndGlyphs">,</text>
<text x="1068.68" y="82.80" font-size="30" textLength="18.460" lengthAdjust="spacingAndGlyphs">Δ</text>
<text x="1088.38" y="82.80" font-size="30" font-style="italic">P</text>
<rect x="1115.70" y="71.65" width="15.10" height="2.0" fill="#000"/>
<rect x="1115.70" y="77.75" width="15.10" height="2.0" fill="#000"/>
<text x="1139.25" y="82.80" font-size="30" textLength="16.416" lengthAdjust="spacingAndGlyphs">0</text>
<text x="1155.66" y="82.80" font-size="30" textLength="8.201" lengthAdjust="spacingAndGlyphs">.</text>
<path d="M103,490 L266,490 L266,0 L358,0 L358,700 L282,700 C268,635 215,577 103,570 Z" transform="translate(1163.86,82.80) scale(0.02952,-0.03000)"/>
<text x="1180.28" y="82.80" font-size="30" textLength="16.416" lengthAdjust="spacingAndGlyphs">3</text>
<text x="1200.34" y="82.80" font-size="30" textLength="23.319" lengthAdjust="spacingAndGlyphs">m</text>
<text x="1223.66" y="82.80" font-size="30" textLength="18.671" lengthAdjust="spacingAndGlyphs">P</text>
<text x="1242.33" y="82.80" font-size="30" textLength="15.569" lengthAdjust="spacingAndGlyphs">a</text>
<text x="1267.98" y="82.80" font-size="30" textLength="14.792" lengthAdjust="spacingAndGlyphs">s</text>
<text x="1282.30" y="70.20" font-size="20" textLength="10.910" lengthAdjust="spacingAndGlyphs">–</text>
<path d="M103,490 L266,490 L266,0 L358,0 L358,700 L282,700 C268,635 215,577 103,570 Z" transform="translate(1295.88,70.20) scale(0.01765,-0.02000)"/>
<rect x="890.00" y="101.10" width="13.00" height="12.70" fill="#00780a"/>
<text x="914.98" y="116.60" font-size="30" font-style="italic">P</text>
<text x="932.65" y="124.50" font-size="20" textLength="12.100" lengthAdjust="spacingAndGlyphs">0</text>
<rect x="953.80" y="105.45" width="14.40" height="2.0" fill="#000"/>
<rect x="953.80" y="111.55" width="14.40" height="2.0" fill="#000"/>
<path d="M103,490 L266,490 L266,0 L358,0 L358,700 L282,700 C268,635 215,577 103,570 Z" transform="translate(977.68,116.60) scale(0.02836,-0.03000)"/>
<text x="993.45" y="116.60" font-size="30" textLength="15.774" lengthAdjust="spacingAndGlyphs">7</text>
<text x="1018.66" y="116.60" font-size="30" textLength="19.020" lengthAdjust="spacingAndGlyphs">P</text>
<text x="1037.68" y="116.60" font-size="30" textLength="15.859" lengthAdjust="spacingAndGlyphs">a</text>
<text x="1053.54" y="116.60" font-size="30" textLength="7.923" lengthAdjust="spacingAndGlyphs">,</text>
<text x="1068.68" y="116.60" font-size="30" textLength="18.460" lengthAdjust="spacingAndGlyphs">Δ</text>
<text x="1088.38" y="116.60" font-size="30" font-style="italic">P</text>
<rect x="1115.70" y="105.45" width="15.10" height="2.0" fill="#000"/>
<rect x="1115.70" y="111.55" width="15.10" height="2.0" fill="#000"/>
<text x="1139.26" y="116.60" font-size="30" textLength="16.193" lengthAdjust="spacingAndGlyphs">0</text>
<text x="1155.46" y="116.60" font-size="30" textLength="8.089" lengthAdjust="spacingAndGlyphs">.</text>
<text x="1163.54" y="116.60" font-size="30" textLength="16.193" lengthAdjust="spacingAndGlyphs">0</text>
<text x="1179.74" y="116.60" font-size="30" textLength="16.193" lengthAdjust="spacingAndGlyphs">4</text>
<text x="1195.93" y="116.60" font-size="30" textLength="16.193" lengthAdjust="spacingAndGlyphs">5</text>
<text x="1216.94" y="116.60" font-size="30" textLength="23.361" lengthAdjust="spacingAndGlyphs">m</text>
<text x="1240.30" y="116.60" font-size="30" textLength="18.705" lengthAdjust="spacingAndGlyphs">P</text>
<text x="1259.00" y="116.60" font-size="30" textLength="15.597" lengthAdjust="spacingAndGlyphs">a</text>
<text x="1284.08" y="116.60" font-size="30" textLength="14.678" lengthAdjust="spacingAndGlyphs">s</text>
<text x="1298.70" y="104.00" font-size="20" textLength="11.210" lengthAdjust="spacingAndGlyphs">–</text>
<path d="M103,490 L266,490 L266,0 L358,0 L358,700 L282,700 C268,635 215,577 103,570 Z" transform="translate(1311.88,104.00) scale(0.01765,-0.02000)"/>
</svg></div>
</body></html>
